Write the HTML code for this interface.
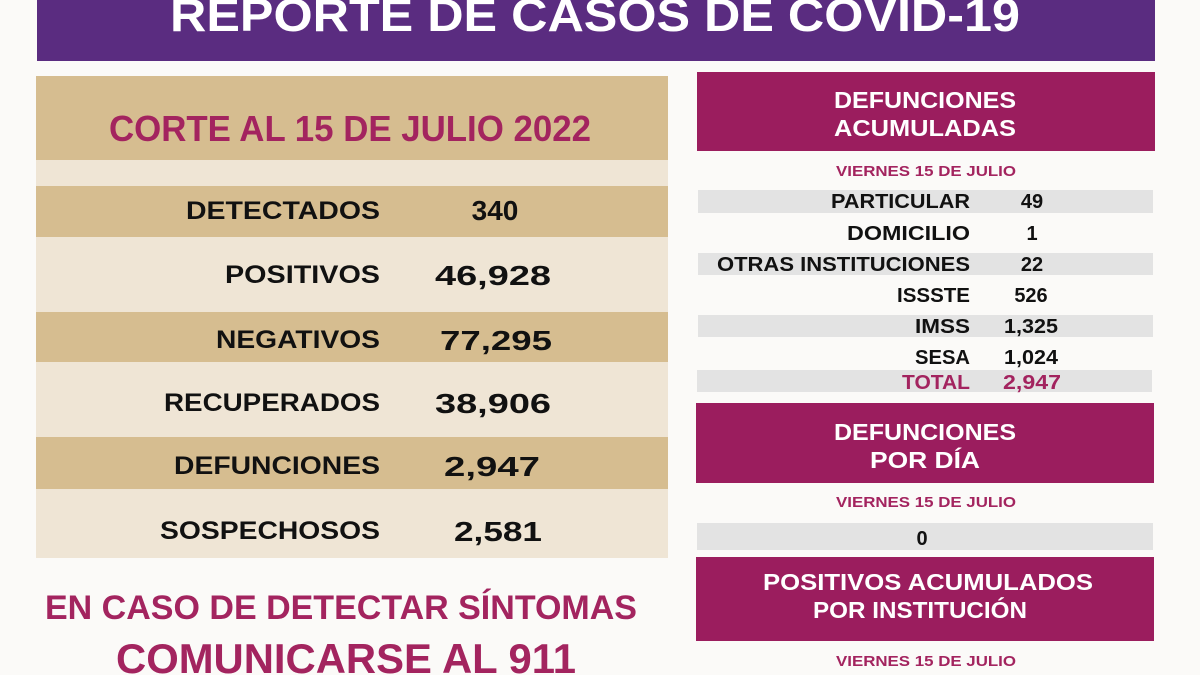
<!DOCTYPE html>
<html><head><meta charset="utf-8"><style>
html,body{margin:0;padding:0;background:#fdfcfb;}
svg{display:block;font-family:"Liberation Sans",sans-serif;font-weight:bold;}
</style></head><body>
<svg width="1200" height="675" viewBox="0 0 1200 675" xmlns="http://www.w3.org/2000/svg">
<rect width="1200" height="675" fill="#fbfaf8"/>
<!-- header -->
<rect x="37" y="0" width="1118" height="61" fill="#5a2c80"/>
<text x="595" y="31" fill="#fff" font-size="46" text-anchor="middle" textLength="850" lengthAdjust="spacingAndGlyphs">REPORTE DE CASOS DE COVID-19</text>
<!-- left panel -->
<rect x="36" y="76" width="632" height="84" fill="#d6bd90"/>
<rect x="36" y="160" width="632" height="398" fill="#efe5d5"/>
<rect x="36" y="186" width="632" height="51" fill="#d6bd90"/>
<rect x="36" y="312" width="632" height="50" fill="#d6bd90"/>
<rect x="36" y="437" width="632" height="52" fill="#d6bd90"/>
<text x="350" y="141" fill="#a3245f" font-size="36" text-anchor="middle" textLength="482" lengthAdjust="spacingAndGlyphs">CORTE AL 15 DE JULIO 2022</text>
<g font-size="25" fill="#111" text-anchor="end">
<text x="380" y="219" textLength="194" lengthAdjust="spacingAndGlyphs">DETECTADOS</text>
<text x="380" y="283" textLength="155" lengthAdjust="spacingAndGlyphs">POSITIVOS</text>
<text x="380" y="348" textLength="164" lengthAdjust="spacingAndGlyphs">NEGATIVOS</text>
<text x="380" y="411" textLength="216" lengthAdjust="spacingAndGlyphs">RECUPERADOS</text>
<text x="380" y="474" textLength="206" lengthAdjust="spacingAndGlyphs">DEFUNCIONES</text>
<text x="380" y="539" textLength="220" lengthAdjust="spacingAndGlyphs">SOSPECHOSOS</text>
</g>
<g font-size="28" fill="#111" text-anchor="middle">
<text x="495" y="220">340</text>
<text x="493" y="285" textLength="116" lengthAdjust="spacingAndGlyphs">46,928</text>
<text x="496" y="350" textLength="112" lengthAdjust="spacingAndGlyphs">77,295</text>
<text x="493" y="413" textLength="116" lengthAdjust="spacingAndGlyphs">38,906</text>
<text x="492" y="476" textLength="96" lengthAdjust="spacingAndGlyphs">2,947</text>
<text x="498" y="541" textLength="88" lengthAdjust="spacingAndGlyphs">2,581</text>
</g>
<text x="341" y="619" fill="#a3245f" font-size="34" text-anchor="middle" textLength="592" lengthAdjust="spacingAndGlyphs">EN CASO DE DETECTAR SÍNTOMAS</text>
<text x="346" y="673" fill="#a3245f" font-size="42" text-anchor="middle" textLength="460" lengthAdjust="spacingAndGlyphs">COMUNICARSE AL 911</text>
<!-- right -->
<rect x="697" y="72" width="458" height="79" fill="#9b1d5e"/>
<g fill="#fff" font-size="23" text-anchor="middle">
<text x="925" y="108" textLength="182" lengthAdjust="spacingAndGlyphs">DEFUNCIONES</text>
<text x="925" y="136" textLength="182" lengthAdjust="spacingAndGlyphs">ACUMULADAS</text>
</g>
<text x="926" y="176" fill="#a3245f" font-size="15" text-anchor="middle" textLength="180" lengthAdjust="spacingAndGlyphs">VIERNES 15 DE JULIO</text>
<g fill="#e3e3e3">
<rect x="698" y="190" width="455" height="23"/>
<rect x="698" y="253" width="455" height="22"/>
<rect x="698" y="315" width="455" height="22"/>
<rect x="697" y="370" width="455" height="22"/>
</g>
<g font-size="20" fill="#111" text-anchor="end">
<text x="970" y="208" textLength="139" lengthAdjust="spacingAndGlyphs">PARTICULAR</text>
<text x="970" y="240" textLength="123" lengthAdjust="spacingAndGlyphs">DOMICILIO</text>
<text x="970" y="271" textLength="253" lengthAdjust="spacingAndGlyphs">OTRAS INSTITUCIONES</text>
<text x="970" y="302" textLength="73" lengthAdjust="spacingAndGlyphs">ISSSTE</text>
<text x="970" y="333" textLength="55" lengthAdjust="spacingAndGlyphs">IMSS</text>
<text x="970" y="364" textLength="55" lengthAdjust="spacingAndGlyphs">SESA</text>
<text x="970" y="389" fill="#a3245f" textLength="68" lengthAdjust="spacingAndGlyphs">TOTAL</text>
</g>
<g font-size="20" fill="#111" text-anchor="middle">
<text x="1032" y="208">49</text>
<text x="1032" y="240">1</text>
<text x="1032" y="271">22</text>
<text x="1031" y="302">526</text>
<text x="1031" y="333" textLength="54" lengthAdjust="spacingAndGlyphs">1,325</text>
<text x="1031" y="364" textLength="54" lengthAdjust="spacingAndGlyphs">1,024</text>
<text x="1032" y="389" fill="#a3245f" textLength="58" lengthAdjust="spacingAndGlyphs">2,947</text>
</g>
<rect x="696" y="403" width="458" height="80" fill="#9b1d5e"/>
<g fill="#fff" font-size="23" text-anchor="middle">
<text x="925" y="440" textLength="182" lengthAdjust="spacingAndGlyphs">DEFUNCIONES</text>
<text x="925" y="468" textLength="110" lengthAdjust="spacingAndGlyphs">POR DÍA</text>
</g>
<text x="926" y="507" fill="#a3245f" font-size="15" text-anchor="middle" textLength="180" lengthAdjust="spacingAndGlyphs">VIERNES 15 DE JULIO</text>
<rect x="697" y="523" width="456" height="27" fill="#e3e3e3"/>
<text x="922" y="545" font-size="20" fill="#111" text-anchor="middle">0</text>
<rect x="696" y="557" width="458" height="84" fill="#9b1d5e"/>
<g fill="#fff" font-size="23" text-anchor="middle">
<text x="928" y="590" textLength="330" lengthAdjust="spacingAndGlyphs">POSITIVOS ACUMULADOS</text>
<text x="920" y="618" textLength="214" lengthAdjust="spacingAndGlyphs">POR INSTITUCIÓN</text>
</g>
<text x="926" y="666" fill="#a3245f" font-size="15" text-anchor="middle" textLength="180" lengthAdjust="spacingAndGlyphs">VIERNES 15 DE JULIO</text>
</svg>
</body></html>
